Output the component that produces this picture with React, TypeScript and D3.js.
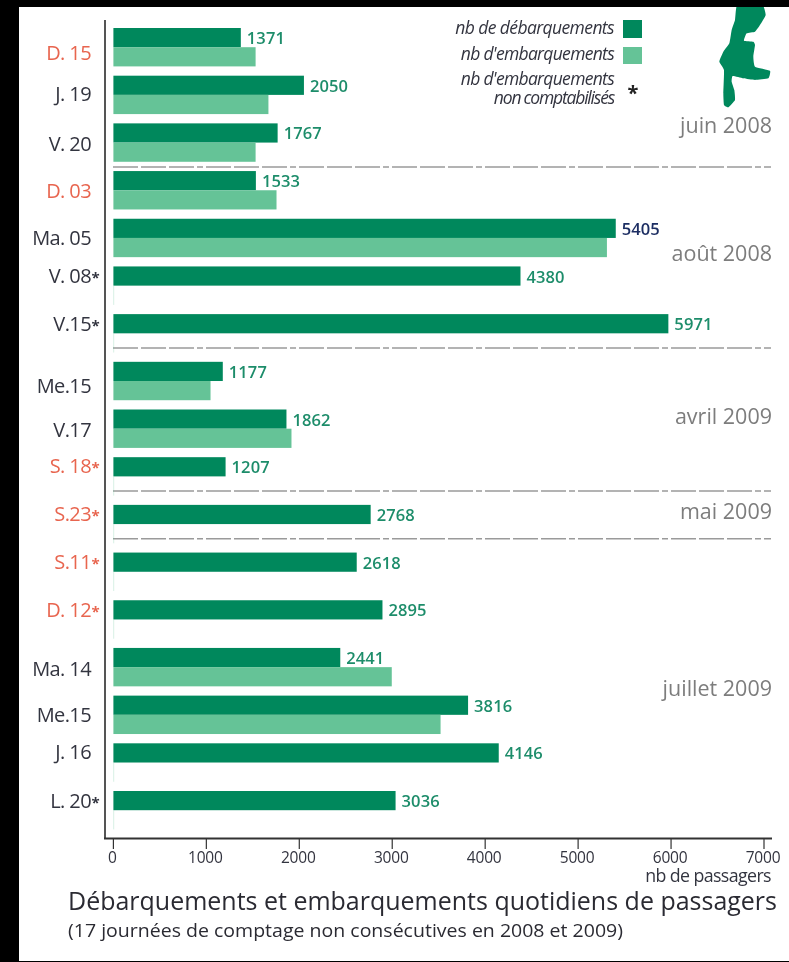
import React from "react";
import * as d3 from "d3";

const days = ["D. 15","J. 19","V. 20","D. 03","Ma. 05","V. 08","V.15","Me.15","V.17","S. 18","S.23","S.11","D. 12","Ma. 14","Me.15","J. 16","L. 20"];
const disembark = [1371,2050,1767,1533,5405,4380,5971,1177,1862,1207,2768,2618,2895,2441,3816,4146,3036];
const embark = [1530,1668,1530,1755,5310,8,8,1045,1916,8,8,8,8,2995,3520,8,8];
const noEmbarkBar = [false,false,false,false,false,true,true,false,false,true,true,true,true,false,false,true,true];
const starred = [false,false,false,false,false,true,true,false,false,true,true,true,true,false,false,false,true];
const weekend = [true,false,false,true,false,false,false,false,false,true,true,true,true,false,false,false,false];
const months = ["juin 2008","août 2008","avril 2009","mai 2009","juillet 2009"];
const monthBaseline = [133,261,424,519,696];
const separatorAfter = [2,6,9,10];
const xTicks = [0,1000,2000,3000,4000,5000,6000,7000];
const labelNudge = [6,-1,1,1,0,0,0,5,1,-1,0,0,0,2,0,-1,0];
const mapZoom: [number,number][] = [[113,10],[185,10],[197,45],[180,75],[165,95],[140,100],[132,122],[160,125],[165,135],[160,170],[165,200],[210,212],[205,235],[165,240],[130,235],[98,228],[95,245],[103,270],[105,300],[85,322],[72,315],[70,280],[72,210],[58,185],[70,155],[88,130],[95,90],[105,60]];

const W = 789, H = 962;
const FONT = "'Open Sans','Noto Sans',sans-serif";
const DARK = "#03885c", LIGHT = "#65c397", VAL = "#1f8d6b", RED = "#e8654f", INK = "#33343f", GREY = "#7d7d7d";

const x = d3.scaleLinear().domain([0,7000]).range([113.4,764]);
const y = d3.scaleBand<number>().domain(d3.range(days.length)).range([28,829.4]).paddingInner(0.1948).paddingOuter(0);
const barH = 19.2;
const mapPath = d3.line().x(d => 700 + d[0]/3).y(d => d[1]/3).curve(d3.curveCardinalClosed.tension(0.6))(mapZoom) as string;

export default function App() {
  return (
    <svg width={W} height={H} viewBox={`0 0 ${W} ${H}`} style={{position:"absolute",left:0,top:0,display:"block"}} fontFamily={FONT}>
      <defs><filter id="soft"><feGaussianBlur stdDeviation="0.45"/></filter></defs>
      <rect width={W} height={H} fill="#fff"/>
      <g filter="url(#soft)">
        {separatorAfter.map(s => {
          const yy = (y(s) as number) + (s === 2 ? 43.6 : 33.8);
          return <line key={s} x1={113} x2={771} y1={yy} y2={yy} stroke="#9a9a9a" strokeWidth={1.6} strokeDasharray="25,3,25,3,25,3,6,3"/>;
        })}
        {days.map((d,i) => {
          const yy = y(i) as number;
          const base = yy+(noEmbarkBar[i]?barH/2:barH)+7+labelNudge[i];
          return (
            <g key={i}>
              <rect x={x(0)} y={yy} width={x(disembark[i])-x(0)} height={barH} fill={DARK}/>
              <rect x={x(0)} y={yy+barH} width={x(embark[i])-x(0)} height={barH} fill={LIGHT} opacity={noEmbarkBar[i]?0.35:1}/>
              <text x={x(disembark[i])+6} y={yy+barH/2+6.5} fontSize={16.5} fontWeight={600} letterSpacing={0.1} fill={disembark[i]===5405?"#1e2f63":VAL}>{disembark[i]}</text>
              <text x={91} y={base} textAnchor="end" fontSize={20} letterSpacing={-0.6} fill={weekend[i]?RED:INK}>{d}</text>
              {starred[i] && <text x={91.5} y={base} fontSize={15} fontWeight={700} fill={weekend[i]?RED:INK}>*</text>}
            </g>
          );
        })}
        <line x1={105} x2={105} y1={20} y2={839} stroke="#555" strokeWidth={2}/>
        <line x1={104} x2={772} y1={838.5} y2={838.5} stroke="#333" strokeWidth={2}/>
        {xTicks.map(t => (
          <g key={t}>
            <line x1={x(t)} x2={x(t)} y1={838} y2={849} stroke="#333" strokeWidth={1.2}/>
            <text x={x(t)-1} y={863} textAnchor="middle" fontSize={15.5} letterSpacing={-0.2} fill="#33343f">{t}</text>
          </g>
        ))}
        <text x={771} y={882} textAnchor="end" fontSize={17.8} letterSpacing={-0.6} fill="#33343f">nb de passagers</text>
        {months.map((m,i) => (
          <text key={m} x={772} y={monthBaseline[i]} textAnchor="end" fontSize={21.5} fill={GREY}>{m}</text>
        ))}
        <text x={614} y={34} textAnchor="end" fontSize={17.5} fontStyle="italic" letterSpacing={-0.6} fill={INK}>nb de débarquements</text>
        <text x={614} y={60} textAnchor="end" fontSize={17.5} fontStyle="italic" letterSpacing={-0.7} fill={INK}>nb d'embarquements</text>
        <text x={614} y={85} textAnchor="end" fontSize={17.5} fontStyle="italic" letterSpacing={-0.7} fill={INK}>nb d'embarquements</text>
        <text x={614} y={104} textAnchor="end" fontSize={17.5} fontStyle="italic" letterSpacing={-1.2} fill={INK}>non comptabilisés</text>
        <rect x={623} y={20} width={19} height={18} fill={DARK}/>
        <rect x={623} y={47} width={19} height={17} fill={LIGHT}/>
        <text x={633} y={100} textAnchor="middle" fontSize={20} fontWeight={700} fill="#222">*</text>
        <path d={mapPath} fill={DARK}/>
        <text x={68} y={910} fontSize={26} textLength={709} lengthAdjust="spacingAndGlyphs" fill="#2b2b33">Débarquements et embarquements quotidiens de passagers</text>
        <text x={68} y={937} fontSize={18} textLength={555} lengthAdjust="spacingAndGlyphs" fill="#2b2b33">(17 journées de comptage non consécutives en 2008 et 2009)</text>
      </g>
      <rect x={0} y={0} width={W} height={7} fill="#000"/>
      <rect x={0} y={961} width={W} height={1} fill="#000"/>
      <rect x={0} y={0} width={19} height={H} fill="#000"/>
    </svg>
  );
}
